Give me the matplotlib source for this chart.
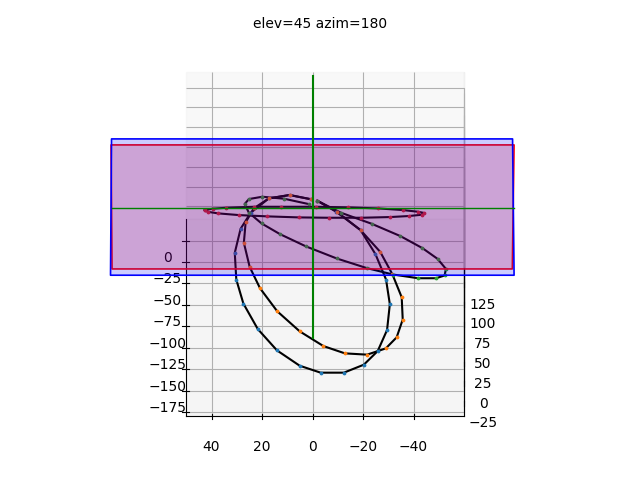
import matplotlib
matplotlib.use("Agg")
import matplotlib.pyplot as plt
from mpl_toolkits.mplot3d import proj3d
from mpl_toolkits.mplot3d.art3d import Poly3DCollection

# loops
blue_x = [35.2, 40.2, 36.3, 19.5, 0.8, -27.2, -58.3, -86.3, -116, -140.9, -158.8, -166.9, -166.9, -157.6, -141.7, -117.2, -87.1, -58.3, -28.7, -0.7, 20.7, 33.5]
blue_y = [0.5, 9.1, 17.3, 24.5, 28.5, 30.8, 30.2, 27.4, 21.7, 14.1, 5.1, -3.2, -12.4, -20.3, -25.8, -29.5, -30.6, -29.1, -24.9, -19, -9.4, -1.9]

orange_x = [35.2, 40.2, 36.3, 24.6, 8.3, -15.5, -43.6, -68.5, -95.3, -118.7, -135.9, -144.4, -145.9, -138.6, -125.7, -105, -79, -52.1, -26.1, -0.7, 20.7, 33.5]
orange_y = [0.5, 9.1, 17.3, 23.3, 26.5, 27.2, 24.9, 20.8, 14, 5.1, -4.3, -12.8, -21.6, -29, -33.3, -35.7, -35.3, -31.6, -26.8, -19, -9.6, -1.9]

green_x = [29.7, 35.9, 38.2, 35.5, 29.7, 19.5, 7.1, -5.4, -19.7, -33.8, -45.1, -52.5, -56.8, -56.8, -53.6, -45.9, -34.2, -21.7, -7.7, 6.7, 19.5, 33.5]
green_y = [1.6, 11.3, 19.9, 25.2, 26.9, 25.2, 20.2, 12.9, 2.6, -9.6, -21.6, -31.9, -41.8, -48.9, -52.3, -52.8, -49.5, -43.5, -34.8, -23.4, -11.3, -1.9]

red_x = [22.7, 24.2, 25.4, 26.5, 26.5, 26.5, 25.8, 24.6, 22.7, 20.7, 19.2, 17.2, 15.7, 14.5, 13.7, 13.7, 14.1, 15.3, 16.8, 18.8, 20.7, 22.7]
red_y = [42.7, 39.6, 34.1, 23.3, 12.4, -1.5, -14, -25.8, -35.7, -41.8, -44.3, -43.2, -38.1, -30.6, -19.3, -6.4, 5.3, 17.9, 29.1, 37.4, 41.6, 42.7]

# planes and guide lines
red_plane_x = [99.2, 99.2, -45.4, -45.4]
red_plane_y = [80.0, -79.6, -78.9, 79.6]
blue_plane_x = [106.2, 106.2, -52.7, -52.7]
blue_plane_y = [79.8, -79.0, -79.6, 80.2]
green_h_x = [25.6, 25.6]
green_h_y = [79.6, -79.6]
green_v_x = [179, -127]
green_v_y = [0, 0]

x_ticks = [-175, -150, -125, -100, -75, -50, -25, 0, 25]
x_labels = ["\u2212175", "\u2212150", "\u2212125", "\u2212100", "\u221275", "\u221250", "\u221225", "0", ""]
y_ticks = [-40, -20, 0, 20, 40]
z_ticks = [-25, 0, 25, 50, 75, 100, 125]

fig = plt.figure(figsize=(6.4, 4.8), dpi=100)
ax = fig.add_axes([0.1128, 0.097, 0.775, 0.77], projection="3d", proj_type="ortho", computed_zorder=False)
ax.view_init(elev=45, azim=180)
ax.set_box_aspect(None, zoom=1.168)

ax.set_xlim(-179, 50, view_margin=0)
ax.set_ylim(-60, 50, view_margin=0)
ax.set_zlim(-41, 145, view_margin=0)
ax.set_xticks(x_ticks)
ax.set_xticklabels([""] * len(x_ticks))
ax.set_yticks(y_ticks)
ax.set_zticks(z_ticks)
ax.tick_params(axis="y", pad=2)
ax.tick_params(axis="z", pad=1.5)

# the left labels sit up next to their ticks in the reference
proj = ax.get_proj()
for t, label in zip(x_ticks, x_labels):
    if label:
        sx, sy, _ = proj3d.proj_transform(t + 4.8, 57.5, -41, proj)
        ax.text2D(sx, sy, label, transform=ax.transData, ha="center", va="center", fontsize=10, zorder=1)

loops = [(blue_x, blue_y, "C0"), (orange_x, orange_y, "C1"), (green_x, green_y, "C2"), (red_x, red_y, "C3")]
for lx, ly, c in loops:
    lz = [0] * len(lx)
    ax.plot(lx, ly, lz, color="k", lw=1.5, zorder=2)
    ax.scatter(lx, ly, lz, s=3, color=c, depthshade=False, zorder=3)

for px, py, c in [(red_plane_x, red_plane_y, (1, 0, 0)), (blue_plane_x, blue_plane_y, (0, 0, 1))]:
    verts = [list(zip(px, py, [0] * 4))]
    poly = Poly3DCollection(verts, facecolors=[c + (0.2,)], edgecolors=[c], linewidths=1.2, zorder=4)
    ax.add_collection3d(poly)
    poly.set_clip_on(False)

ax.plot(green_h_x, green_h_y, [0, 0], color="green", lw=1, zorder=5, clip_on=False)
ax.plot(green_v_x, green_v_y, [0, 0], color="green", lw=1.5, zorder=5, clip_on=False)

fig.suptitle("elev=45 azim=180", fontsize=10, y=0.965)
fig.savefig("out.png", dpi=100)
